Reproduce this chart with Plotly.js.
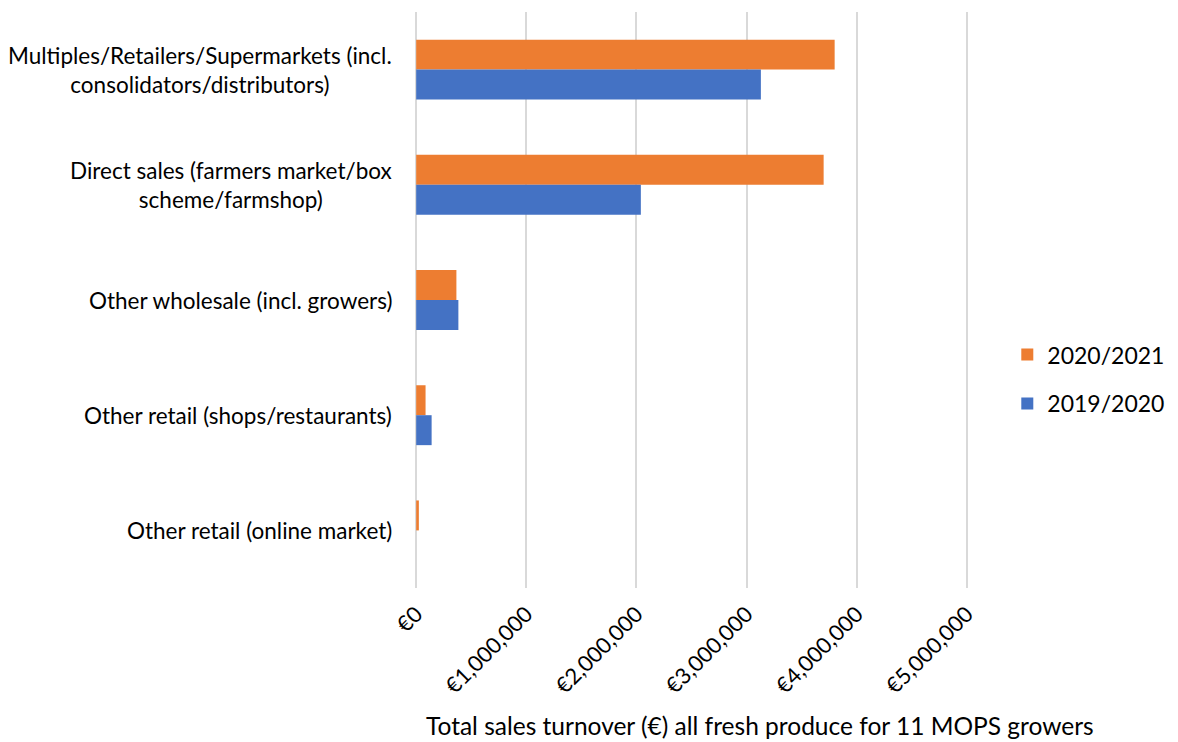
<!DOCTYPE html>
<html>
<head>
<meta charset="utf-8">
<script src="https://cdn.plot.ly/plotly-3.0.1.min.js"></script>
<style>
  html, body { margin: 0; padding: 0; background: #ffffff; }
  #chart { width: 1178px; height: 742px; }
</style>
</head>
<body>
<div id="chart"></div>
<script>
// Sales channels (top to bottom)
const channels = [
  "Multiples/Retailers/Supermarkets (incl.<br>consolidators/distributors)",
  "Direct sales (farmers market/box<br>scheme/farmshop)",
  "Other wholesale (incl. growers)",
  "Other retail (shops/restaurants)",
  "Other retail (online market)"
];

// Total sales turnover (€) per season
const sales2021 = [3800000, 3700000, 365000, 85000, 24000];
const sales2020 = [3130000, 2040000, 383000, 140000, 0];

const seriesNames = ["2020/2021", "2019/2020"];

const xTickValues = [0, 1000000, 2000000, 3000000, 4000000, 5000000];
const xTickLabels = ["€0", "€1,000,000", "€2,000,000", "€3,000,000", "€4,000,000", "€5,000,000"];

const axisTitle = "Total sales turnover (€) all fresh produce for 11 MOPS growers";

const FONT = "Lato, 'Open Sans', sans-serif";
const TEXT_COLOR = "#000000";

const traces = [
  {
    type: "bar", orientation: "h",
    name: seriesNames[0], legendgroup: "a",
    y: channels, x: sales2021,
    marker: { color: "#ED7D31" },
    hoverinfo: "x+name"
  },
  {
    type: "bar", orientation: "h",
    name: seriesNames[1], legendgroup: "b",
    y: channels, x: sales2020,
    marker: { color: "#4472C4" },
    hoverinfo: "x+name"
  }
];

// Category labels: right-aligned block, each line centred
const labelAnnotations = channels.map(c => ({
  xref: "paper", yref: "y",
  x: 0, y: c,
  xanchor: "right", yanchor: "middle",
  xshift: -20,
  align: "center",
  text: c,
  showarrow: false,
  font: { family: FONT, size: 22.5, color: TEXT_COLOR }
}));

const layout = {
  width: 1178, height: 742,
  paper_bgcolor: "#ffffff", plot_bgcolor: "#ffffff",
  margin: { l: 414.3, r: 209.3, t: 12, b: 154, autoexpand: false },
  barmode: "group",
  bargap: 0.48,
  bargroupgap: 0,
  font: { family: FONT, size: 22, color: TEXT_COLOR },
  xaxis: {
    // small padding so the €0 and €5,000,000 gridlines are drawn
    range: [-20000, 5020000],
    tickvals: xTickValues,
    ticktext: xTickLabels,
    tickangle: -45,
    showgrid: true,
    gridcolor: "#D9D9D9",
    gridwidth: 2,
    zeroline: false,
    showline: false,
    ticks: "",
    ticklabelstandoff: 8,
    tickfont: { family: FONT, size: 22, color: TEXT_COLOR },
    fixedrange: true
  },
  yaxis: {
    autorange: "reversed",
    showticklabels: false,
    showgrid: false,
    zeroline: false,
    showline: false,
    ticks: "",
    fixedrange: true
  },
  legend: {
    x: 1.069, y: 0.3626,
    xanchor: "left", yanchor: "middle",
    traceorder: "grouped",
    tracegroupgap: 16,
    font: { family: FONT, size: 23, color: TEXT_COLOR },
    bgcolor: "rgba(0,0,0,0)"
  },
  annotations: labelAnnotations.concat([{
    xref: "paper", yref: "paper",
    x: 0.623, y: 0,
    xanchor: "center", yanchor: "middle",
    yshift: -137,
    text: axisTitle,
    showarrow: false,
    font: { family: FONT, size: 24.5, color: TEXT_COLOR }
  }])
};

Plotly.newPlot("chart", traces, layout, { displayModeBar: false, staticPlot: true });
</script>
</body>
</html>
